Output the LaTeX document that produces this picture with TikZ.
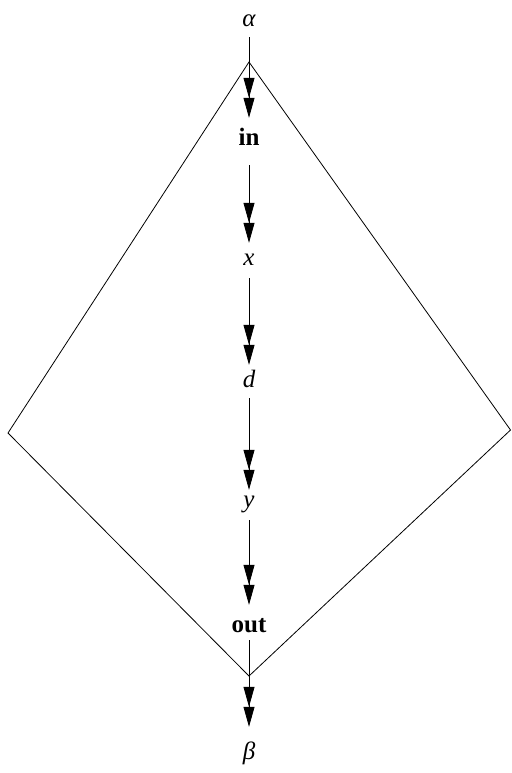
\documentclass[tikz,border=0pt]{standalone}
\usepackage{fontspec}
\setmainfont{Liberation Serif}
\usetikzlibrary{arrows.meta}
\tikzset{
  lbl/.style={inner sep=0pt, anchor=base, text height=17pt, text depth=6pt, font=\fontsize{25}{30}\selectfont},
  arr/.style={line width=0.8pt, -{Triangle[length=20pt,width=11pt,sep=0pt]Triangle[length=20pt,width=11pt]}},
  frame/.style={line width=0.8pt, line join=miter}
}
\begin{document}
\begin{tikzpicture}[x=1pt,y=-1pt]
\useasboundingbox (0,0) rectangle (511,773);
\node[lbl] (alpha) at (249,27) {\itshape α};
\node[lbl] (in) at (249,146) {\bfseries in};
\node[lbl] (x) at (249,265) {\itshape x};
\node[lbl] (d) at (249,387) {\itshape d};
\node[lbl] (y) at (249,507) {\itshape y};
\node[lbl] (out) at (249,632) {\bfseries out};
\node[lbl] (beta) at (249,759) {\itshape β};
\coordinate (top) at (249,62);
\coordinate (left) at (8,433);
\coordinate (bottom) at (249,676);
\coordinate (right) at (510.5,430);
\draw[frame] (top) -- (left) -- (bottom) -- (right) -- cycle;
\draw[arr, shorten <=4pt, shorten >=11pt] (alpha) -- (in);
\draw[arr, shorten <=13pt, shorten >=5pt] (in) -- (x);
\draw[arr, shorten <=7pt, shorten >=5pt] (x) -- (d);
\draw[arr, shorten <=5pt, shorten >=0pt] (d) -- (y);
\draw[arr, shorten <=7pt, shorten >=10pt] (y) -- (out);
\draw[arr, shorten <=2pt, shorten >=15pt] (out) -- (beta);
\end{tikzpicture}
\end{document}
